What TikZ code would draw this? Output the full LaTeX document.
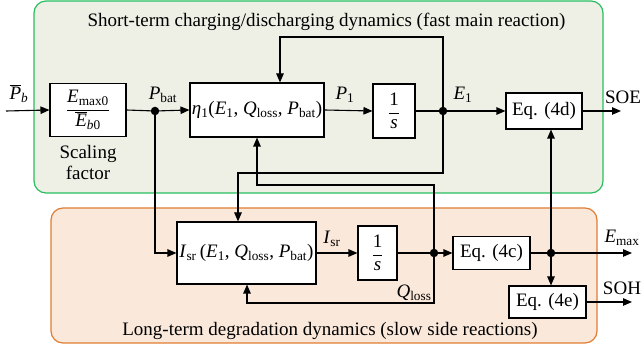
\documentclass[tikz,border=0pt]{standalone}
\usepackage{fontspec}
\setmainfont{Liberation Serif}
\usetikzlibrary{arrows.meta}
\definecolor{gfill}{RGB}{238,240,230}
\definecolor{gline}{RGB}{40,190,95}
\definecolor{ofill}{RGB}{250,232,218}
\definecolor{oline}{RGB}{225,125,50}
\newcommand{\Pbat}{\textit{P}\textsubscript{bat}}
\newcommand{\Qloss}{\textit{Q}\textsubscript{loss}}
\newcommand{\Eone}{\textit{E}\textsubscript{1}}
\begin{document}
\begin{tikzpicture}[x=1pt,y=-1pt,
  font=\fontsize{19}{22}\selectfont,
  blk/.style={draw,line width=1.1pt,fill=white,inner sep=0pt,align=center},
  arr/.style={line width=1.1pt,-{Triangle[length=9pt,width=7.5pt]}},
  ln/.style={line width=1.1pt},
  dot/.style={circle,fill=black,inner sep=0pt,minimum size=8.5pt},
  lbl/.style={inner sep=0pt}]
\useasboundingbox (0,0) rectangle (641,347);
% backgrounds
\draw[fill=gfill,draw=gline,line width=1.2pt,rounded corners=12pt] (34,1) rectangle (603,193);
\draw[fill=ofill,draw=oline,line width=1.2pt,rounded corners=12pt] (51,208) rectangle (597,343);
\node[lbl] (t1) at (326.5,22) {Short-term charging/discharging dynamics (fast main reaction)};
\node[lbl] (t2) at (330,331) {Long-term degradation dynamics (slow side reactions)};
% blocks
\node[blk,minimum width=76pt,minimum height=53pt] (scale) at (88,110)
  {$\displaystyle\frac{\mbox{\textit{E}\textsubscript{max0}}}{\mbox{$\overline{\mbox{\textit{E}}}$\textsubscript{\textit{b}0}}}$};
\node[lbl,align=center] (sf) at (88,163) {Scaling\\[-1pt]factor};
\node[blk,minimum width=134pt,minimum height=54pt] (eta) at (257,110)
  {\textit{η}\textsubscript{1}(\Eone, \Qloss, \Pbat)};
\node[blk,minimum width=42pt,minimum height=54pt] (int1) at (394,111)
  {$\displaystyle\frac{\mbox{1}}{\mbox{\textit{s}}}$};
\node[blk,minimum width=76pt,minimum height=36pt] (eq4d) at (544,111) {Eq. (4d)};
\node[blk,minimum width=139pt,minimum height=62pt] (isr) at (246.5,253)
  {\textit{I}\textsubscript{sr}\,(\Eone, \Qloss, \Pbat)};
\node[blk,minimum width=39pt,minimum height=54pt] (int2) at (377.5,253)
  {$\displaystyle\frac{\mbox{1}}{\mbox{\textit{s}}}$};
\node[blk,minimum width=77pt,minimum height=33pt] (eq4c) at (491.5,253) {Eq. (4c)};
\node[blk,minimum width=77pt,minimum height=32pt] (eq4e) at (547.5,302) {Eq. (4e)};
% free ends
\coordinate (in) at (6,111);
\coordinate (soe) at (621,111);
\coordinate (emax) at (632,253);
\coordinate (soh) at (632,302);
\coordinate (fbtop) at (280,37);
\coordinate (fbmid) at (238,173);
\coordinate (fbq) at (257,185);
\coordinate (fbl) at (247,303);
\coordinate (pbc) at (155,111);
\coordinate (e1c) at (443,111);
\coordinate (qc) at (434,253);
\coordinate (emc) at (551,253);
% labels
\node[lbl] (lpb) at (19,94) {$\overline{\mbox{\textit{P}}}$\textsubscript{\textit{b}}};
\node[lbl] (lpbat) at (163,95) {\Pbat};
\node[lbl] (lp1) at (345,95) {\textit{P}\textsubscript{1}};
\node[lbl] (le1) at (463,95) {\Eone};
\node[lbl] (lsoe) at (623,97) {SOE};
\node[lbl] (lisr) at (332,239) {\textit{I}\textsubscript{sr}};
\node[lbl] (lq) at (414,293) {\Qloss};
\node[lbl] (lemax) at (622,238) {\textit{E}\textsubscript{max}};
\node[lbl] (lsoh) at (622,288) {SOH};
% connectors
\draw[arr] (in) -- (scale.west);
\draw[ln] (scale.east) -- (pbc);
\draw[arr] (pbc) -- (eta.west);
\draw[arr] (eta.east) -- (int1.west);
\draw[ln] (int1.east) -- (e1c);
\draw[arr] (e1c) -- (eq4d.west);
\draw[arr] (eq4d.east) -- (soe);
\draw[arr] (e1c) |- (fbtop) -- (fbtop |- eta.north);
\draw[arr] (e1c) |- (fbmid) -- (fbmid |- isr.north);
\draw[arr] (pbc) |- (isr.west);
\draw[arr] (isr.east) -- (int2.west);
\draw[ln] (int2.east) -- (qc);
\draw[arr] (qc) -- (eq4c.west);
\draw[arr] (qc) |- (fbq) -- (eta.south);
\draw[arr] (qc) |- (fbl) -- (fbl |- isr.south);
\draw[ln] (eq4c.east) -- (emc);
\draw[arr] (emc) -- (emax);
\draw[arr] (emc) -- (emc |- eq4d.south);
\draw[arr] (emc) -- (emc |- eq4e.north);
\draw[arr] (eq4e.east) -- (soh);
% junction dots
\node[dot] (pbdot) at (pbc) {};
\node[dot] (e1dot) at (e1c) {};
\node[dot] (qdot) at (qc) {};
\node[dot] (emdot) at (emc) {};
\end{tikzpicture}
\end{document}
